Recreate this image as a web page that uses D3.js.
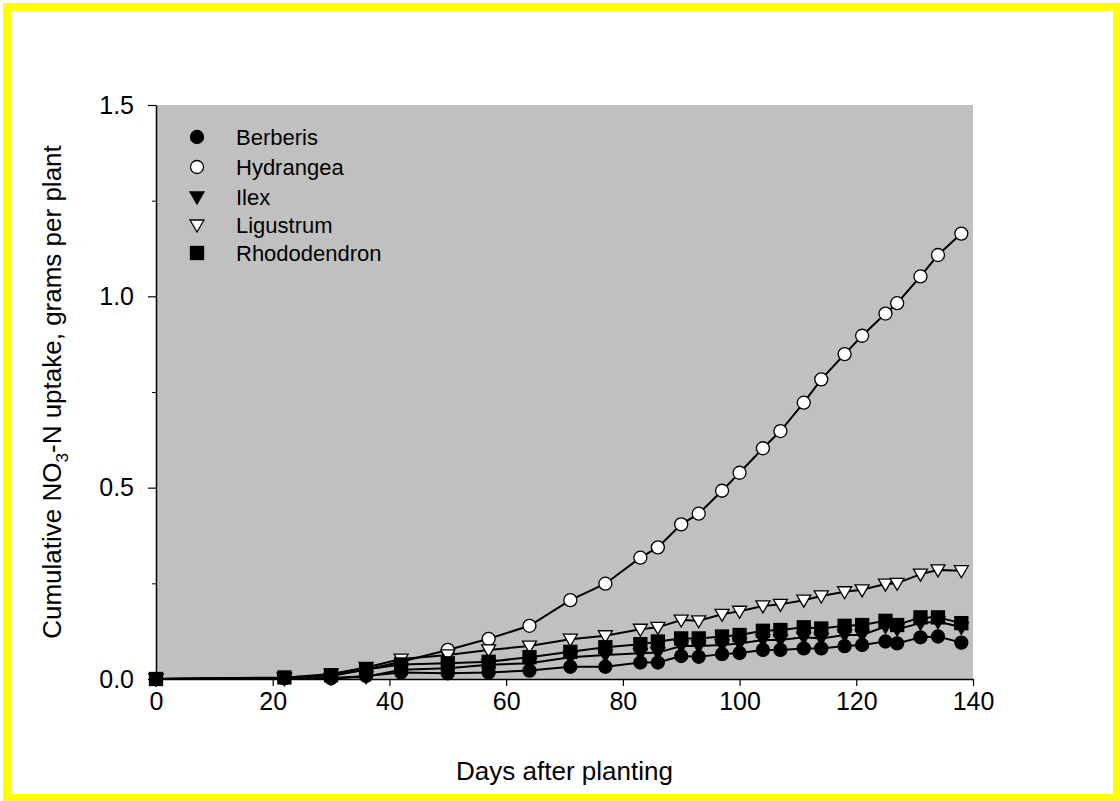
<!DOCTYPE html>
<html>
<head>
<meta charset="utf-8">
<script src="https://cdn.jsdelivr.net/npm/d3@7"></script>
<style>
  body { margin: 0; background: #fff; }
  svg { display: block; font-family: Arial, "Liberation Sans", sans-serif; }
</style>
</head>
<body>
<div id="chart"></div>
<script>
// sampling days (days after planting)
const days = [0, 22, 30, 36, 42, 50, 57, 64, 71, 77, 83, 86, 90, 93, 97, 100, 104, 107, 111, 114, 118, 121, 125, 127, 131, 134, 138];

// cumulative NO3-N uptake, grams per plant
const berberis     = [0, 0.002, 0.002, 0.008, 0.017, 0.015, 0.017, 0.022, 0.032, 0.032, 0.043, 0.043, 0.060, 0.058, 0.065, 0.068, 0.076, 0.076, 0.080, 0.080, 0.086, 0.089, 0.098, 0.093, 0.109, 0.111, 0.095];
const hydrangea    = [0, 0.003, 0.008, 0.025, 0.045, 0.076, 0.105, 0.139, 0.206, 0.249, 0.317, 0.344, 0.404, 0.432, 0.492, 0.539, 0.603, 0.648, 0.722, 0.783, 0.849, 0.897, 0.955, 0.982, 1.052, 1.108, 1.164];
const ilex         = [0, 0.001, 0.002, 0.006, 0.024, 0.028, 0.037, 0.041, 0.057, 0.063, 0.067, 0.069, 0.086, 0.086, 0.089, 0.093, 0.102, 0.102, 0.109, 0.106, 0.115, 0.115, 0.137, 0.130, 0.146, 0.150, 0.135];
const ligustrum    = [0, 0.003, 0.013, 0.030, 0.052, 0.063, 0.076, 0.086, 0.104, 0.113, 0.130, 0.135, 0.154, 0.152, 0.169, 0.177, 0.191, 0.195, 0.206, 0.217, 0.228, 0.233, 0.248, 0.250, 0.274, 0.285, 0.283];
const rhododendron = [0, 0.004, 0.010, 0.025, 0.038, 0.041, 0.045, 0.057, 0.071, 0.083, 0.091, 0.098, 0.106, 0.106, 0.111, 0.115, 0.126, 0.128, 0.135, 0.132, 0.139, 0.141, 0.152, 0.141, 0.161, 0.161, 0.146];

const seriesNames = ['Berberis', 'Hydrangea', 'Ilex', 'Ligustrum', 'Rhododendron'];
const seriesValues = [berberis, hydrangea, ilex, ligustrum, rhododendron];
const seriesSymbols = ['circle', 'circle', 'triangle', 'triangle', 'square'];
const seriesFills = ['#000', '#fff', '#000', '#fff', '#000'];

const xTicks = [0, 20, 40, 60, 80, 100, 120, 140];
const yTicks = [0, 0.5, 1.0, 1.5];
const yMinorTicks = [0.25, 0.75, 1.25];

const width = 1120, height = 801;
const plot = {left: 156, right: 973, top: 105, bottom: 679};

const svg = d3.select('#chart').append('svg')
    .attr('width', width)
    .attr('height', height);

svg.append('rect')
    .attr('width', width).attr('height', height)
    .attr('fill', '#fff');

// yellow frame
svg.append('rect')
    .attr('x', 7).attr('y', 7)
    .attr('width', width - 10).attr('height', height - 10)
    .attr('fill', 'none')
    .attr('stroke', '#ffff00')
    .attr('stroke-width', 8);

const x = d3.scaleLinear().domain([0, 140]).range([plot.left, plot.right]);
const y = d3.scaleLinear().domain([0, 1.5]).range([plot.bottom, plot.top]);

// gray plot background
svg.append('rect')
    .attr('x', x(0)).attr('y', y(1.5))
    .attr('width', x(140) - x(0))
    .attr('height', y(0) - y(1.5))
    .attr('fill', '#c0c0c0');

// axes
const xAxis = svg.append('g')
    .attr('transform', `translate(0, ${y(0)})`)
    .call(d3.axisBottom(x).tickValues(xTicks).tickSize(7).tickSizeOuter(0).tickPadding(6));

const yAxis = svg.append('g')
    .attr('transform', `translate(${x(0)}, 0)`)
    .call(d3.axisLeft(y).tickValues(yTicks).tickSize(8).tickSizeOuter(0).tickPadding(14)
        .tickFormat(d3.format('.1f')));

svg.append('g')
    .attr('transform', `translate(${x(0)}, 0)`)
    .call(d3.axisLeft(y).tickValues(yMinorTicks).tickSize(4).tickSizeOuter(0).tickFormat(''))
    .select('.domain').remove();

[xAxis, yAxis].forEach(a => {
    a.select('.domain').attr('stroke', '#000').attr('stroke-width', 1.5);
    a.selectAll('.tick line').attr('stroke', '#000').attr('stroke-width', 1.2);
    a.selectAll('.tick text')
        .attr('fill', '#000')
        .style('font-size', '25px')
        .style('font-family', 'Arial, "Liberation Sans", sans-serif');
});
svg.selectAll('.tick line').attr('stroke', '#000');

// axis titles
svg.append('text')
    .attr('x', (plot.left + plot.right) / 2)
    .attr('y', 780)
    .attr('text-anchor', 'middle')
    .style('font-size', '26px')
    .text('Days after planting');

const yTitle = svg.append('text')
    .attr('transform', `translate(61, ${(plot.top + plot.bottom) / 2}) rotate(-90)`)
    .attr('text-anchor', 'middle')
    .style('font-size', '26px');
yTitle.append('tspan').text('Cumulative NO');
yTitle.append('tspan').attr('dy', 7).style('font-size', '17px').text('3');
yTitle.append('tspan').attr('dy', -7).text('-N uptake, grams per plant');

// marker drawing
function drawMarker(g, type, fill, cx, cy) {
    if (type === 'circle') {
        g.append('circle')
            .attr('cx', cx).attr('cy', cy).attr('r', 6.5)
            .attr('fill', fill).attr('stroke', '#000').attr('stroke-width', 1.3);
    } else if (type === 'square') {
        g.append('rect')
            .attr('x', cx - 6.5).attr('y', cy - 6.5)
            .attr('width', 13).attr('height', 13)
            .attr('fill', fill).attr('stroke', '#000').attr('stroke-width', 1.3);
    } else {
        g.append('path')
            .attr('d', `M${cx - 7},${cy - 5}L${cx + 7},${cy - 5}L${cx},${cy + 7}Z`)
            .attr('fill', fill).attr('stroke', '#000').attr('stroke-width', 1.3);
    }
}

const line = d3.line()
    .x((d, i) => x(days[i]))
    .y(d => y(d));

const dataG = svg.append('g');

seriesValues.forEach(vals => {
    dataG.append('path')
        .datum(vals)
        .attr('d', line)
        .attr('fill', 'none')
        .attr('stroke', '#000')
        .attr('stroke-width', 2);
});

seriesValues.forEach((vals, s) => {
    const g = dataG.append('g');
    vals.forEach((v, i) => drawMarker(g, seriesSymbols[s], seriesFills[s], x(days[i]), y(v)));
});

// legend
const legend = svg.append('g');
const legendY = [137, 167, 197, 225, 253];
seriesNames.forEach((name, i) => {
    drawMarker(legend, seriesSymbols[i], seriesFills[i], 197, legendY[i]);
    legend.append('text')
        .attr('x', 236)
        .attr('y', legendY[i])
        .attr('dy', '0.35em')
        .style('font-size', '22px')
        .text(name);
});
</script>
</body>
</html>
